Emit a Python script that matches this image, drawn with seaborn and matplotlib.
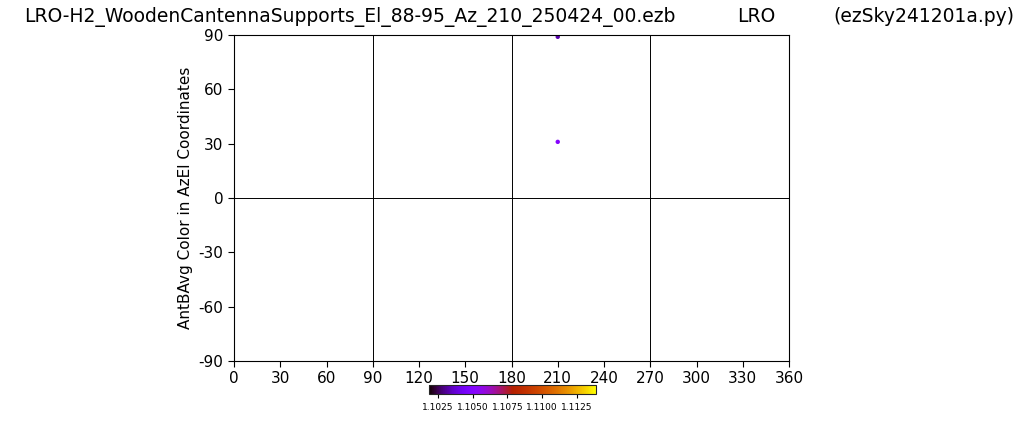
import matplotlib
matplotlib.use('Agg')
import matplotlib.pyplot as plt
import seaborn as sns
import pandas as pd
import numpy as np

sns.set_style('white')
plt.rcParams['font.family'] = ['DejaVu Sans']
plt.rcParams['axes.unicode_minus'] = False
plt.rcParams['text.color'] = 'black'
plt.rcParams['axes.labelcolor'] = 'black'
plt.rcParams['xtick.color'] = 'black'
plt.rcParams['ytick.color'] = 'black'

# Dados
azimute = [210.0, 210.0]
elevacao = [89.0, 31.0]
ant_b_avg = [1.1033, 1.1051]
cor_min, cor_max = 1.10185, 1.11387

df = pd.DataFrame({'Az': azimute, 'El': elevacao, 'AntBAvg': ant_b_avg})

fig = plt.figure(figsize=(10.24, 4.25), dpi=100)
ax = fig.add_axes([234 / 1024, 1 - 361 / 425, (789 - 234) / 1024, (361 - 35) / 425])

norm = matplotlib.colors.Normalize(vmin=cor_min, vmax=cor_max)
sns.scatterplot(data=df, x='Az', y='El', hue='AntBAvg', palette='gnuplot',
                hue_norm=norm, s=10, edgecolor='none', legend=False, ax=ax)

ax.set_xlim(0, 360)
ax.set_ylim(-90, 90)
ax.set_xticks(np.arange(0, 361, 30))
ax.set_yticks(np.arange(-90, 91, 30))
ax.tick_params(axis='both', labelsize=11, length=4, width=0.8, direction='out',
               bottom=True, left=True, color='black', labelcolor='black')
ax.set_xlabel('')
ax.set_ylabel('AntBAvg Color in AzEl Coordinates', fontsize=11, color='black')
for sp in ax.spines.values():
    sp.set_color('black')
    sp.set_linewidth(0.8)

# linhas de grade a cada 90 graus
for xv in [90, 180, 270]:
    ax.axvline(xv, color='black', linewidth=0.7)
ax.axhline(0, color='black', linewidth=0.7)

# barra de cores
cax = fig.add_axes([429 / 1024, 1 - 394 / 425, (596 - 429) / 1024, 9 / 425])
sm = matplotlib.cm.ScalarMappable(norm=norm, cmap='gnuplot')
cb = fig.colorbar(sm, cax=cax, orientation='horizontal')
cb.set_ticks([1.1025, 1.1050, 1.1075, 1.1100, 1.1125])
cb.ax.tick_params(labelsize=6.5, length=3, color='black', labelcolor='black')
cb.outline.set_linewidth(0.8)

titulo_y = 1 - 17 / 425
fig.text(24 / 1024, titulo_y, 'LRO-H2_WoodenCantennaSupports_El_88-95_Az_210_250424_00.ezb',
         fontsize=13.5, va='center', ha='left', color='black')
fig.text(737 / 1024, titulo_y, 'LRO', fontsize=13.5, va='center', ha='left', color='black')
fig.text(833 / 1024, titulo_y, '(ezSky241201a.py)', fontsize=13.5, va='center', ha='left', color='black')

fig.savefig('out.png', dpi=100)
